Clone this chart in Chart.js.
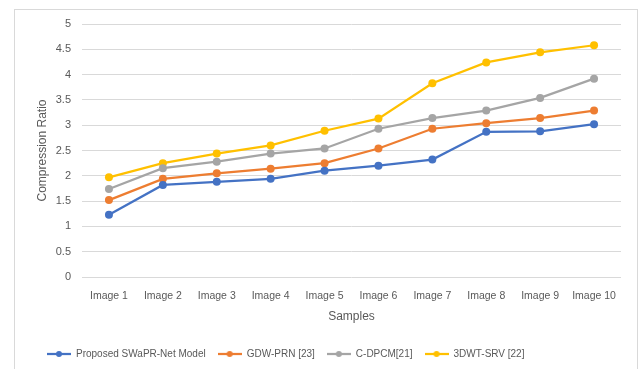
<!DOCTYPE html>
<html>
<head>
<meta charset="utf-8">
<script src="https://cdn.jsdelivr.net/npm/chart.js@4"></script>
<style>
  html, body { margin: 0; padding: 0; background: #fff; }
  #wrap { width: 641px; height: 369px; }
</style>
</head>
<body>
<div id="wrap"><canvas id="ratioChart" width="641" height="369"></canvas></div>
<script>
var samples = ['Image 1', 'Image 2', 'Image 3', 'Image 4', 'Image 5', 'Image 6', 'Image 7', 'Image 8', 'Image 9', 'Image 10'];
var swaprNet = [1.23, 1.82, 1.88, 1.94, 2.1, 2.2, 2.32, 2.87, 2.88, 3.02];
var gdwPrn = [1.52, 1.94, 2.05, 2.14, 2.25, 2.54, 2.93, 3.04, 3.14, 3.29];
var cDpcm = [1.74, 2.15, 2.28, 2.44, 2.54, 2.93, 3.14, 3.29, 3.54, 3.92];
var dwtSrv = [1.97, 2.25, 2.44, 2.6, 2.89, 3.13, 3.83, 4.24, 4.44, 4.58];
var yTicks = [0, 0.5, 1, 1.5, 2, 2.5, 3, 3.5, 4, 4.5, 5];

var textColor = '#595959';
var gridColor = '#d9d9d9';
var fontFamily = '"Liberation Sans", Arial, sans-serif';

// little line + dot marker for the legend, like the Excel one
function legendMarker(color) {
    var c = document.createElement('canvas');
    c.width = 24;
    c.height = 10;
    var g = c.getContext('2d');
    g.strokeStyle = color;
    g.lineWidth = 2.25;
    g.beginPath();
    g.moveTo(0, 5);
    g.lineTo(24, 5);
    g.stroke();
    g.fillStyle = color;
    g.beginPath();
    g.arc(12, 5, 3, 0, Math.PI * 2);
    g.fill();
    return c;
}

function series(label, data, color) {
    return {
        label: label,
        data: data,
        borderColor: color,
        backgroundColor: color,
        borderWidth: 2.25,
        pointRadius: 4,
        pointBorderWidth: 0,
        pointBackgroundColor: color,
        tension: 0,
        marker: legendMarker(color)
    };
}

var outerBox = {
    id: 'outerBox',
    beforeDraw: function (chart) {
        var g = chart.ctx;
        g.save();
        g.fillStyle = '#fff';
        g.fillRect(0, 0, chart.width, chart.height);
        g.strokeStyle = gridColor;
        g.lineWidth = 1;
        g.strokeRect(14.5, 9.5, 623, 380);
        g.restore();
    }
};

var ctx = document.getElementById('ratioChart').getContext('2d');
var ratioChart = new Chart(ctx, {
    type: 'line',
    data: {
        labels: samples,
        datasets: [
            series('Proposed SWaPR-Net Model', swaprNet, '#4472C4'),
            series('GDW-PRN [23]', gdwPrn, '#ED7D31'),
            series('C-DPCM[21]', cDpcm, '#A5A5A5'),
            series('3DWT-SRV [22]', dwtSrv, '#FFC000')
        ]
    },
    options: {
        responsive: false,
        animation: false,
        layout: { padding: { left: 35, right: 20, top: 24, bottom: 0 } },
        plugins: {
            tooltip: { enabled: false },
            legend: {
                position: 'bottom',
                align: 'start',
                labels: {
                    color: textColor,
                    font: { family: fontFamily, size: 10 },
                    usePointStyle: true,
                    pointStyleWidth: 24,
                    boxHeight: 10,
                    padding: 12,
                    generateLabels: function (chart) {
                        return chart.data.datasets.map(function (ds, i) {
                            return {
                                text: ds.label,
                                fontColor: textColor,
                                pointStyle: ds.marker,
                                datasetIndex: i,
                                hidden: false,
                                lineWidth: 0
                            };
                        });
                    }
                }
            }
        },
        scales: {
            x: {
                offset: true,
                grid: { display: false },
                border: { display: false },
                ticks: {
                    color: textColor,
                    font: { family: fontFamily, size: 10.5 },
                    maxRotation: 0,
                    autoSkip: false,
                    padding: 5
                },
                title: {
                    display: true,
                    text: 'Samples',
                    color: textColor,
                    font: { family: fontFamily, size: 12 },
                    padding: { top: 2, bottom: 13 }
                }
            },
            y: {
                min: 0,
                max: 5,
                afterFit: function (scale) { scale.width = 47; },
                afterBuildTicks: function (scale) {
                    scale.ticks = yTicks.map(function (v) { return { value: v }; });
                },
                grid: { color: gridColor, lineWidth: 1, drawTicks: false },
                border: { display: false },
                ticks: {
                    color: textColor,
                    font: { family: fontFamily, size: 11 },
                    padding: 11,
                    callback: function (v) { return String(v); }
                },
                title: {
                    display: true,
                    text: 'Compression Ratio',
                    color: textColor,
                    font: { family: fontFamily, size: 12 },
                    padding: 0
                }
            }
        }
    },
    plugins: [outerBox]
});
</script>
</body>
</html>
